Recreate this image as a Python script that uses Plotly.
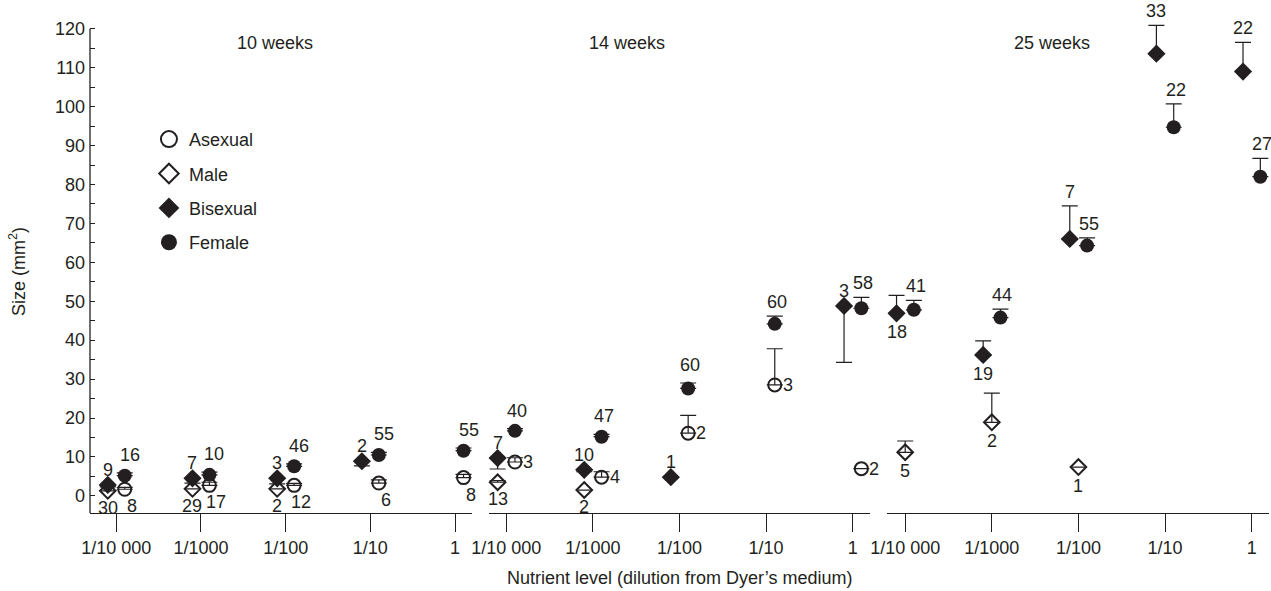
import plotly.graph_objects as go

# ---------------- data ----------------
levels = ["1/10 000", "1/1000", "1/100", "1/10", "1"]
panel_titles = ["10 weeks", "14 weeks", "25 weeks"]
series_names = ["Asexual", "Male", "Bisexual", "Female"]

# 10 weeks
w10_asexual = [1.7, 2.7, 2.7, 3.3, 4.7]
w10_asexual_up = [0.5, 0.8, 0.5, 0.8, 0.8]
w10_asexual_dn = [0, 0, 0, 0, 0]
w10_asexual_n = ["8", "17", "12", "6", "8"]

w10_male = [1.3, 1.8, 1.8, None, None]
w10_male_up = [0, 0, 0, 0, 0]
w10_male_dn = [0, 0, 0, 0, 0]
w10_male_n = ["30", "29", "2", "", ""]

w10_bisexual = [2.8, 4.5, 4.5, 8.9, None]
w10_bisexual_up = [0, 0, 0, 0, 0]
w10_bisexual_dn = [0.5, 1.2, 1.4, 1.2, 0]
w10_bisexual_n = ["9", "7", "3", "2", ""]

w10_female = [5.2, 5.4, 7.6, 10.5, 11.6]
w10_female_up = [0.7, 0.7, 0.6, 0.7, 0.7]
w10_female_dn = [0, 0, 0, 0, 0]
w10_female_n = ["16", "10", "46", "55", "55"]

# 14 weeks
w14_asexual = [8.7, 4.8, 16.1, 28.5, 7.0]
w14_asexual_up = [1.1, 1.4, 4.6, 9.3, 0]
w14_asexual_dn = [0, 0, 0, 0, 0]
w14_asexual_n = ["3", "4", "2", "3", "2"]

w14_male = [3.5, 1.5, None, None, None]
w14_male_up = [0.4, 0, 0, 0, 0]
w14_male_dn = [0, 0, 0, 0, 0]
w14_male_n = ["13", "2", "", "", ""]

w14_bisexual = [9.7, 6.7, 4.8, None, 48.8]
w14_bisexual_up = [0, 0, 0, 0, 0]
w14_bisexual_dn = [2.8, 0.5, 0, 0, 14.5]
w14_bisexual_n = ["7", "10", "1", "", "3"]

w14_female = [16.7, 15.2, 27.6, 44.2, 48.2]
w14_female_up = [0.6, 0.6, 1.4, 2.0, 2.8]
w14_female_dn = [0, 0, 0, 0, 0]
w14_female_n = ["40", "47", "60", "60", "58"]

# 25 weeks
w25_asexual = [None, None, None, None, None]
w25_asexual_up = [0, 0, 0, 0, 0]
w25_asexual_dn = [0, 0, 0, 0, 0]
w25_asexual_n = ["", "", "", "", ""]

w25_male = [11.2, 18.9, 7.4, None, None]
w25_male_up = [2.9, 7.5, 0, 0, 0]
w25_male_dn = [0, 0, 0, 0, 0]
w25_male_n = ["5", "2", "1", "", ""]

w25_bisexual = [46.9, 36.2, 66.0, 113.6, 109.0]
w25_bisexual_up = [4.6, 3.6, 8.5, 7.3, 7.5]
w25_bisexual_dn = [0, 0, 0, 0, 0]
w25_bisexual_n = ["18", "19", "7", "33", "22"]

w25_female = [47.8, 45.8, 64.3, 94.7, 82.0]
w25_female_up = [2.4, 2.2, 2.0, 6.0, 4.7]
w25_female_dn = [0, 0, 0, 0, 0]
w25_female_n = ["41", "44", "55", "22", "27"]

# ---------------- styling ----------------
INK = "#231f20"
FONT = "Liberation Sans, Arial, Helvetica, sans-serif"
FS = 18

marker_styles = {
    "Asexual": dict(symbol="circle-open", size=13, color=INK, line=dict(color=INK, width=2)),
    "Male": dict(symbol="diamond-open", size=12, color=INK, line=dict(color=INK, width=2)),
    "Bisexual": dict(symbol="diamond", size=14, color=INK, line=dict(color=INK, width=0)),
    "Female": dict(symbol="circle", size=14, color=INK, line=dict(color=INK, width=0)),
}

# x offsets of each series around the tick, per panel
offsets = [
    {"Asexual": 0.1, "Male": -0.1, "Bisexual": -0.1, "Female": 0.1},
    {"Asexual": 0.1, "Male": -0.1, "Bisexual": -0.1, "Female": 0.1},
    {"Asexual": 0.1, "Male": 0.0, "Bisexual": -0.1, "Female": 0.1},
]

# label placement styles
label_sides = [
    {"Asexual": ["bottomright"] * 5, "Male": ["bottom"] * 5,
     "Bisexual": ["top"] * 5, "Female": ["topright"] * 5},
    {"Asexual": ["right"] * 5, "Male": ["bottom"] * 5,
     "Bisexual": ["top"] * 5, "Female": ["top"] * 5},
    {"Asexual": ["right"] * 5, "Male": ["bottom"] * 5,
     "Bisexual": ["bottom", "bottom", "top", "top", "top"], "Female": ["top"] * 5},
]
bottom_gap = [5, 5, 7]

panel_data = [
    {"Asexual": (w10_asexual, w10_asexual_up, w10_asexual_dn, w10_asexual_n),
     "Male": (w10_male, w10_male_up, w10_male_dn, w10_male_n),
     "Bisexual": (w10_bisexual, w10_bisexual_up, w10_bisexual_dn, w10_bisexual_n),
     "Female": (w10_female, w10_female_up, w10_female_dn, w10_female_n)},
    {"Asexual": (w14_asexual, w14_asexual_up, w14_asexual_dn, w14_asexual_n),
     "Male": (w14_male, w14_male_up, w14_male_dn, w14_male_n),
     "Bisexual": (w14_bisexual, w14_bisexual_up, w14_bisexual_dn, w14_bisexual_n),
     "Female": (w14_female, w14_female_up, w14_female_dn, w14_female_n)},
    {"Asexual": (w25_asexual, w25_asexual_up, w25_asexual_dn, w25_asexual_n),
     "Male": (w25_male, w25_male_up, w25_male_dn, w25_male_n),
     "Bisexual": (w25_bisexual, w25_bisexual_up, w25_bisexual_dn, w25_bisexual_n),
     "Female": (w25_female, w25_female_up, w25_female_dn, w25_female_n)},
]

xaxis_ids = ["x", "x2", "x3"]
x_domains = [[0.0, 0.324], [0.3384, 0.6616], [0.676, 1.0]]
x_ranges = [[-0.31, 4.2], [-0.2, 4.2], [-0.21, 4.2]]
title_x = [1.88, 1.39, 1.69]

fig = go.Figure()
annotations = []

for p in range(3):
    xid = xaxis_ids[p]
    for name in series_names:
        vals, up, dn, ns = panel_data[p][name]
        xs, ys, ups, dns = [], [], [], []
        for i, v in enumerate(vals):
            if v is None:
                continue
            x = i + offsets[p][name]
            xs.append(x)
            ys.append(v)
            ups.append(up[i])
            dns.append(dn[i])
            label = ns[i]
            if not label:
                continue
            side = label_sides[p][name][i]
            ann = dict(x=x, y=v, xref=xid, yref="y", text=label, showarrow=False,
                       font=dict(family=FONT, size=FS, color=INK))
            if side in ("top", "topright"):
                ann.update(y=v + up[i], yanchor="bottom",
                           yshift=2 if up[i] > 0 else 3,
                           xshift=5 if side == "topright" else 2 if name == "Female" else 0)
                if name == "Female" and up[i] < 1.5:
                    ann["yshift"] = 6
            elif side in ("bottom", "bottomright"):
                ann.update(y=v - dn[i], yanchor="top", yshift=-bottom_gap[p],
                           xshift=7 if side == "bottomright" else 0)
            else:
                ann.update(xanchor="left", yanchor="middle", xshift=6)
            annotations.append(ann)
        fig.add_trace(go.Scatter(
            x=xs, y=ys, xaxis=xid, yaxis="y", mode="markers",
            marker=marker_styles[name], name=name, showlegend=False,
            cliponaxis=False,
            error_y=dict(type="data", symmetric=False, array=ups, arrayminus=dns,
                         color=INK, thickness=1.2, width=8),
        ))
    annotations.append(dict(x=title_x[p], y=116.4, xref=xid, yref="y",
                            text=panel_titles[p], showarrow=False,
                            font=dict(family=FONT, size=FS, color=INK)))

# legend entries
legend_sizes = {"Asexual": 18, "Male": 15, "Bisexual": 18, "Female": 19}
for name in series_names:
    st = dict(marker_styles[name])
    st["size"] = legend_sizes[name]
    fig.add_trace(go.Scatter(x=[None], y=[None], xaxis="x", yaxis="y", mode="markers",
                             marker=st, name=name, legendgroup=name, showlegend=True))

# axis titles
annotations.append(dict(x=0.5, y=-0.132, xref="paper", yref="paper",
                        text="Nutrient level (dilution from Dyer’s medium)",
                        showarrow=False, yanchor="middle",
                        font=dict(family=FONT, size=FS, color=INK)))
annotations.append(dict(x=-0.061, y=0.49, xref="paper", yref="paper",
                        text="Size (mm<sup>2</sup>)", textangle=-90,
                        showarrow=False, xanchor="center",
                        font=dict(family=FONT, size=FS, color=INK)))

layout = dict(
    width=1271, height=591,
    margin=dict(l=90, r=2, t=21, b=78),
    paper_bgcolor="white", plot_bgcolor="white",
    font=dict(family=FONT, size=FS, color=INK),
    showlegend=True,
    legend=dict(x=0.05, y=0.797, xanchor="left", yanchor="top",
                font=dict(family=FONT, size=FS, color=INK),
                itemsizing="trace", tracegroupgap=8, bgcolor="rgba(0,0,0,0)"),
    annotations=annotations,
    yaxis=dict(range=[-4.4, 122], tickmode="linear", tick0=0, dtick=10,
               ticks="inside", ticklen=5, tickcolor=INK, showline=False,
               showgrid=False, zeroline=False, anchor="x", ticklabelstandoff=4,
               tickfont=dict(family=FONT, size=FS, color=INK),
               minor=dict(ticks="inside", ticklen=5, dtick=5, tick0=0, tickcolor=INK,
                          showgrid=False)),
    shapes=[dict(type="line", xref="x domain", yref="y", x0=0, x1=0, y0=-4.4, y1=120,
                 line=dict(color=INK, width=1.3))],
)
for p in range(3):
    key = "xaxis" if p == 0 else f"xaxis{p + 1}"
    layout[key] = dict(domain=x_domains[p], range=x_ranges[p], anchor="y",
                       tickmode="array", tickvals=list(range(5)), ticktext=levels,
                       ticks="outside", ticklen=18, tickcolor=INK, tickwidth=1.2,
                       showline=True, linecolor=INK, linewidth=1.3,
                       showgrid=False, zeroline=False,
                       tickfont=dict(family=FONT, size=FS, color=INK))
fig.update_layout(**layout)

fig.write_html("out.html", config={"displayModeBar": False},
               post_script="document.body.style.margin='0';document.body.style.overflow='hidden';")
